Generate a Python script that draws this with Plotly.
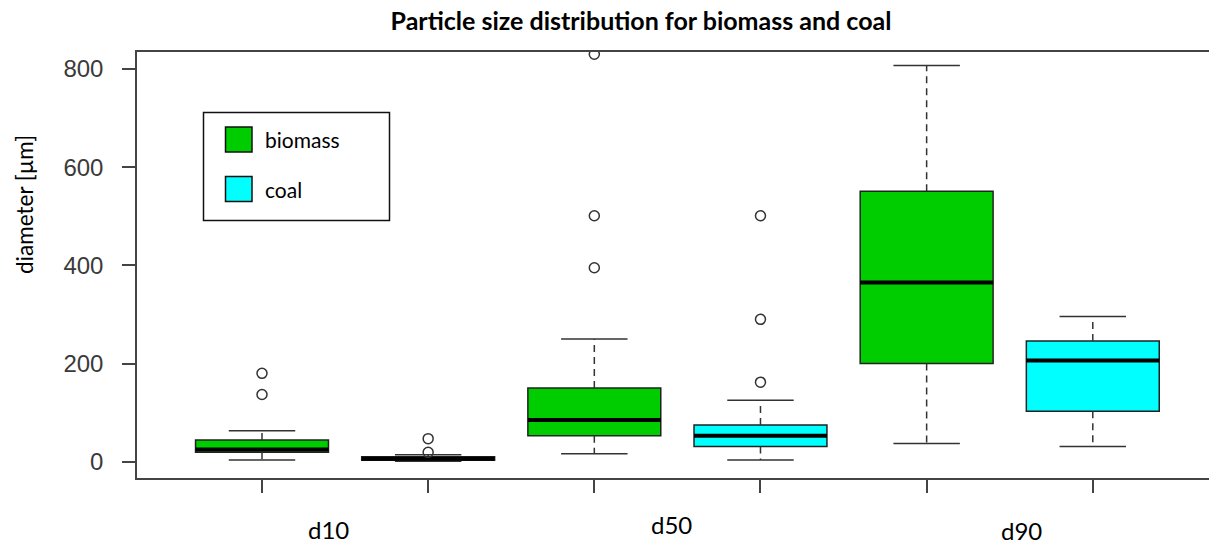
import plotly.graph_objects as go

# Particle size statistics (µm) for each fraction and fuel
groups = ["d10", "d10", "d50", "d50", "d90", "d90"]
fuels = ["biomass", "coal", "biomass", "coal", "biomass", "coal"]
lower_whisker = [3.5, 1, 16, 3.5, 37, 31]
q1 = [19, 3, 53, 31, 200, 103]
median = [25, 6, 85, 53, 365, 206]
q3 = [44, 10, 150, 75, 551, 246]
upper_whisker = [63, 14, 250, 125, 807, 296]
outliers = [[137, 180], [19, 47], [395, 501, 830], [162, 290, 501], [], []]

group_labels = ["d10", "d50", "d90"]
fuel_names = ["biomass", "coal"]
fuel_colors = {"biomass": "#00CD00", "coal": "#00FFFF"}

# layout geometry (pixels)
FIG_W, FIG_H = 1209, 544
L, T, B = 137, 52, 66
PLOT_W = FIG_W - L
PLOT_H = FIG_H - T - B
BOX_W = 0.8
CAP_W = 0.4
LINE = "#222222"


def px_x(px):
    return (px - L) / PLOT_W


def px_y(py):
    return (FIG_H - B - py) / PLOT_H


fig = go.Figure()

positions = list(range(1, len(groups) + 1))

for i, pos in enumerate(positions):
    color = fuel_colors[fuels[i]]
    # box body (whiskers are drawn separately as dashed lines)
    fig.add_trace(go.Box(
        x=[pos], q1=[q1[i]], median=[median[i]], q3=[q3[i]],
        lowerfence=[q1[i]], upperfence=[q3[i]],
        width=BOX_W, whiskerwidth=0,
        fillcolor=color, line=dict(color=LINE, width=1.5),
        boxpoints=False, showlegend=False, name=f"{groups[i]} {fuels[i]}",
    ))

for i, pos in enumerate(positions):
    # dashed whiskers
    fig.add_trace(go.Scatter(
        x=[pos, pos, None, pos, pos],
        y=[q3[i], upper_whisker[i], None, q1[i], lower_whisker[i]],
        mode="lines", line=dict(color="#333333", width=1.5, dash="7px,5px"),
        showlegend=False, hoverinfo="skip",
    ))
    # whisker caps
    fig.add_trace(go.Scatter(
        x=[pos - CAP_W / 2, pos + CAP_W / 2, None, pos - CAP_W / 2, pos + CAP_W / 2],
        y=[upper_whisker[i], upper_whisker[i], None, lower_whisker[i], lower_whisker[i]],
        mode="lines", line=dict(color="#333333", width=1.5),
        showlegend=False, hoverinfo="skip",
    ))
    # thick median bar
    fig.add_trace(go.Scatter(
        x=[pos - BOX_W / 2, pos + BOX_W / 2], y=[median[i], median[i]],
        mode="lines", line=dict(color="#000000", width=4),
        showlegend=False, hoverinfo="skip",
    ))
    # outliers
    if outliers[i]:
        fig.add_trace(go.Scatter(
            x=[pos] * len(outliers[i]), y=outliers[i], mode="markers",
            marker=dict(symbol="circle-open", size=10, color="#333333",
                        line=dict(width=1.5, color="#333333")),
            showlegend=False,
        ))

shapes = []
annotations = []

# legend frame with fill swatches
shapes.append(dict(type="rect", xref="paper", yref="paper",
                   x0=px_x(203.5), x1=px_x(389.5), y0=px_y(220.5), y1=px_y(112.5),
                   line=dict(color="#111111", width=1.5), fillcolor="white", layer="above"))
for k, name in enumerate(fuel_names):
    top = 127 + k * 49.5
    shapes.append(dict(type="rect", xref="paper", yref="paper",
                       x0=px_x(225.5), x1=px_x(252), y0=px_y(top + 25), y1=px_y(top),
                       line=dict(color="#111111", width=1.5),
                       fillcolor=fuel_colors[name], layer="above"))
    annotations.append(dict(text=name, xref="paper", yref="paper",
                            x=px_x(263), y=px_y(top + 12.5), xanchor="left", yanchor="middle",
                            showarrow=False, font=dict(family="Lato", size=21, color="#000000")))

# fraction labels under the axis
label_pos = [(328.5, 529), (671, 524), (1021, 530)]
for text, (lx, ly) in zip(group_labels, label_pos):
    annotations.append(dict(text=text, xref="paper", yref="paper",
                            x=px_x(lx), y=px_y(ly), xanchor="center", yanchor="middle",
                            showarrow=False, font=dict(family="Lato", size=24, color="#000000")))

# y-axis title
annotations.append(dict(text="diameter [µm]", xref="paper", yref="paper",
                        x=px_x(25), y=px_y(205), xanchor="center", yanchor="middle",
                        textangle=-90, showarrow=False,
                        font=dict(family="Lato", size=22.5, color="#000000")))

x_lo = 1 - (262 - L) / 166.16
x_hi = x_lo + PLOT_W / 166.16
y_scale = 0.49088
y_lo = -(FIG_H - B - 461.7) / y_scale
y_hi = (461.7 - T) / y_scale

fig.update_layout(
    width=FIG_W, height=FIG_H,
    margin=dict(l=L, r=0, t=T, b=B),
    paper_bgcolor="white", plot_bgcolor="white",
    title=dict(text="<b>Particle size distribution for biomass and coal</b>",
               x=641 / FIG_W, xanchor="center", xref="container",
               y=1 - 21 / FIG_H, yanchor="middle", yref="container",
               font=dict(family="Lato", size=25, color="#000000")),
    xaxis=dict(range=[x_lo, x_hi], showgrid=False, zeroline=False,
               showline=True, linecolor="#444444", linewidth=1.5, mirror=True,
               tickmode="array", tickvals=positions, showticklabels=False,
               ticks="outside", ticklen=13, tickwidth=1.5, tickcolor="#444444"),
    yaxis=dict(range=[y_lo, y_hi], showgrid=False, zeroline=False,
               showline=True, linecolor="#444444", linewidth=1.5, mirror=False,
               tickmode="array", tickvals=[0, 200, 400, 600, 800],
               ticks="outside", ticklen=13, tickwidth=1.5, tickcolor="#444444",
               ticklabelstandoff=14,
               tickfont=dict(family="Liberation Sans", size=24, color="#3a3a3a")),
    shapes=shapes, annotations=annotations,
    showlegend=False,
)

fig.write_html("out.html")
